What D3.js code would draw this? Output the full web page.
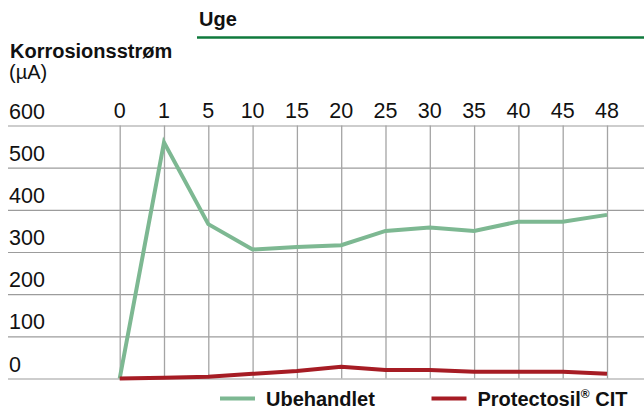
<!DOCTYPE html>
<html>
<head>
<meta charset="utf-8">
<script src="https://cdn.jsdelivr.net/npm/d3@7"></script>
<style>
  body { margin: 0; background: #fff; }
  svg { display: block; font-family: "Liberation Sans", Arial, Helvetica, sans-serif; }
  .tick-label { font-size: 21.5px; fill: #111; }
  .bold { font-weight: bold; fill: #111; }
</style>
</head>
<body>
<svg id="chart"></svg>
<script>
// data
var weeks = ["0", "1", "5", "10", "15", "20", "25", "30", "35", "40", "45", "48"];
var yTicks = [0, 100, 200, 300, 400, 500, 600];
var ubehandlet = [0, 560, 366, 306, 312, 316, 350, 358, 350, 372, 372, 388];
var protectosil = [0, 2, 4, 11, 18, 28, 20, 20, 16, 16, 16, 11];
var seriesNames = ["Ubehandlet", "Protectosil"];

var width = 644, height = 412;
var green = "#7db892", red = "#a61c24";

var svg = d3.select("#chart")
  .attr("width", width)
  .attr("height", height);

var xScale = d3.scalePoint().domain(weeks).range([119.7, 607]);
var yScale = d3.scaleLinear().domain([0, 600]).range([378.5, 125.5]);

// header
svg.append("text")
  .attr("class", "bold")
  .attr("x", 199)
  .attr("y", 26)
  .style("font-size", "20px")
  .text("Uge");

svg.append("line")
  .attr("x1", 197).attr("x2", 644)
  .attr("y1", 37.5).attr("y2", 37.5)
  .attr("stroke", "#0f7a3c")
  .attr("stroke-width", 2.6);

svg.append("text")
  .attr("class", "bold")
  .attr("x", 10)
  .attr("y", 58)
  .style("font-size", "20px")
  .text("Korrosionsstrøm");

svg.append("text")
  .attr("x", 9)
  .attr("y", 79)
  .style("font-size", "20px")
  .attr("fill", "#111")
  .text("(µA)");

// horizontal grid + y labels
var yAxis = d3.axisLeft(yScale)
  .tickValues(yTicks)
  .tickSize(-(width - 8))
  .tickFormat("");

svg.append("g")
  .attr("class", "axis axis--y")
  .attr("transform", "translate(8,0)")
  .call(yAxis)
  .call(function(g) {
    g.select(".domain").remove();
    g.selectAll(".tick line").attr("stroke", "#9c9c9c").attr("stroke-width", 1.2);
  });

svg.selectAll(".ylab")
  .data(yTicks)
  .enter().append("text")
  .attr("class", "tick-label")
  .attr("x", 9)
  .attr("y", function(d) { return yScale(d) - 7; })
  .text(function(d) { return d; });

// vertical grid + x labels
var xAxis = d3.axisTop(xScale)
  .tickSize(-(yScale(0) - yScale(600)))
  .tickFormat("");

svg.append("g")
  .attr("class", "axis axis--x")
  .attr("transform", "translate(0," + yScale(600) + ")")
  .call(xAxis)
  .call(function(g) {
    g.select(".domain").remove();
    g.selectAll(".tick line").attr("stroke", "#a4a4a4").attr("stroke-width", 1.3);
  });

svg.selectAll(".xlab")
  .data(weeks)
  .enter().append("text")
  .attr("class", "tick-label")
  .attr("x", function(d) { return xScale(d); })
  .attr("y", yScale(600) - 7.5)
  .attr("text-anchor", "middle")
  .text(function(d) { return d; });

// lines
var line = d3.line()
  .x(function(d, i) { return xScale(weeks[i]); })
  .y(function(d) { return yScale(d); });

svg.append("path")
  .datum(ubehandlet)
  .attr("fill", "none")
  .attr("stroke", green)
  .attr("stroke-width", 4)
  .attr("d", line);

svg.append("path")
  .datum(protectosil)
  .attr("fill", "none")
  .attr("stroke", red)
  .attr("stroke-width", 4)
  .attr("d", line);

// legend
var legend = svg.selectAll(".legend")
  .data(seriesNames)
  .enter().append("g")
  .attr("class", "legend")
  .attr("transform", function(d, i) { return "translate(" + [220, 431.5][i] + ",398.5)"; });

legend.append("line")
  .attr("x1", 0).attr("x2", 35)
  .attr("stroke", function(d, i) { return [green, red][i]; })
  .attr("stroke-width", 4);

var lt = legend.append("text")
  .attr("class", "bold")
  .attr("x", 46)
  .attr("y", 7.5)
  .style("font-size", "20px")
  .text(function(d) { return d; });

lt.filter(function(d, i) { return i === 1; })
  .append("tspan")
  .attr("dy", -8)
  .style("font-size", "12px")
  .text("®");

lt.filter(function(d, i) { return i === 1; })
  .append("tspan")
  .attr("dy", 8)
  .text(" CIT");
</script>
</body>
</html>
